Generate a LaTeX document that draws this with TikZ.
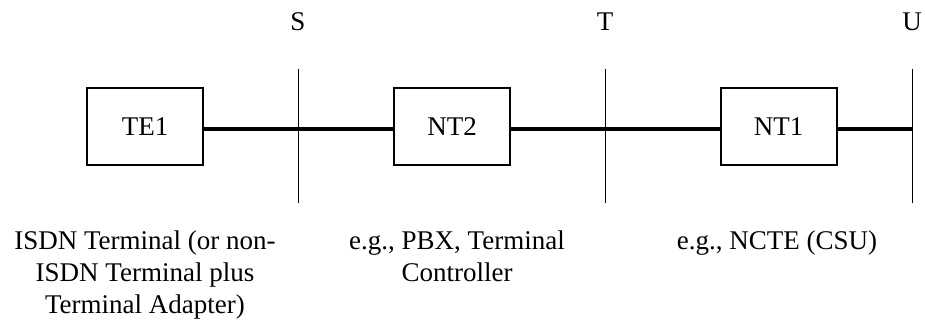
\documentclass[tikz,border=0pt]{standalone}
\usepackage{fontspec}
\setmainfont{Liberation Serif}
\begin{document}
\begin{tikzpicture}[x=1pt,y=-1pt,
  box/.style={draw,line width=2pt,minimum width=116pt,minimum height=77pt,inner sep=0pt,font=\fontsize{27}{30}\selectfont},
  refline/.style={line width=1pt},
  link/.style={line width=3.4pt},
  reflabel/.style={font=\fontsize{27}{30}\selectfont},
  desc/.style={align=center,font=\fontsize{27}{32}\selectfont,anchor=north,inner sep=0pt}]
\useasboundingbox (0,0) rectangle (925,320);
\node[box] (te1) at (145,126.5) {TE1};
\node[box] (nt2) at (452,126.5) {NT2};
\node[box] (nt1) at (778.5,126.5) {NT1};
\coordinate (s1) at (298,69); \coordinate (s2) at (298,203);
\coordinate (t1) at (605,69); \coordinate (t2) at (605,203);
\coordinate (u1) at (912,69); \coordinate (u2) at (912,203);
\coordinate (ue) at (912,129);
\draw[refline] (s1) -- (s2);
\draw[refline] (t1) -- (t2);
\draw[refline] (u1) -- (u2);
\node[reflabel] (sl) at (298,22) {S};
\node[reflabel] (tl) at (605,22) {T};
\node[reflabel] (ul) at (912,22) {U};
\draw[link] (te1.east |- 0,129) -- (nt2.west |- 0,129);
\draw[link] (nt2.east |- 0,129) -- (nt1.west |- 0,129);
\draw[link] (nt1.east |- 0,129) -- (ue);
\node[desc] (d1) at (145,231) {ISDN Terminal (or non-\\ISDN Terminal plus\\Terminal Adapter)};
\node[desc] (d2) at (457,231) {e.g., PBX, Terminal\\Controller};
\node[desc] (d3) at (777,231) {e.g., NCTE (CSU)};
\end{tikzpicture}
\end{document}
